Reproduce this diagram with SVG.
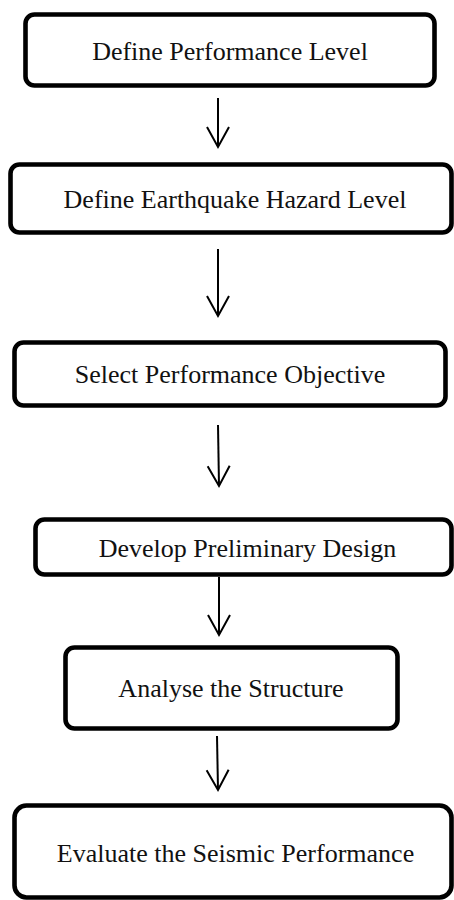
<svg xmlns="http://www.w3.org/2000/svg" width="454" height="900" viewBox="0 0 454 900">
<style>
.box{fill:#fff;stroke:#000;stroke-width:4.6}
.lbl{font-family:"Liberation Serif","Times New Roman",serif;font-size:26px;fill:#111;text-anchor:middle}
.con{stroke:#000;stroke-width:2;fill:none}
</style>
<defs>
<marker id="arr" markerUnits="userSpaceOnUse" markerWidth="30" markerHeight="30" orient="auto" overflow="visible" refX="0" refY="0">
<path d="M-20,-11 L0,0 L-20,11" fill="none" stroke="#000" stroke-width="2" stroke-linejoin="miter"/>
</marker>
</defs>
<rect width="454" height="900" fill="#fff"/>
<g id="connectors">
<line class="con" x1="218" y1="98" x2="218" y2="147" marker-end="url(#arr)"/>
<line class="con" x1="218" y1="249" x2="218" y2="316" marker-end="url(#arr)"/>
<line class="con" x1="218" y1="425" x2="219" y2="486" marker-end="url(#arr)"/>
<line class="con" x1="219" y1="577" x2="219" y2="635" marker-end="url(#arr)"/>
<line class="con" x1="217" y1="736" x2="218" y2="790" marker-end="url(#arr)"/>
</g>
<g id="n1">
<rect class="box" x="25.5" y="14.5" width="409" height="71" rx="9"/>
<text class="lbl" x="230" y="60">Define Performance Level</text>
</g>
<g id="n2">
<rect class="box" x="10.5" y="164.5" width="441" height="68" rx="9"/>
<text class="lbl" x="235" y="208">Define Earthquake Hazard Level</text>
</g>
<g id="n3">
<rect class="box" x="14.5" y="342.5" width="431" height="63" rx="9"/>
<text class="lbl" x="230" y="383">Select Performance Objective</text>
</g>
<g id="n4">
<rect class="box" x="35.5" y="519.5" width="416" height="55" rx="9"/>
<text class="lbl" x="247.5" y="557">Develop Preliminary Design</text>
</g>
<g id="n5">
<rect class="box" x="65.5" y="647.5" width="332" height="81" rx="9"/>
<text class="lbl" x="231" y="697">Analyse the Structure</text>
</g>
<g id="n6">
<rect class="box" x="14.5" y="805.5" width="437" height="92" rx="12"/>
<text class="lbl" x="235.5" y="862">Evaluate the Seismic Performance</text>
</g>
</svg>
